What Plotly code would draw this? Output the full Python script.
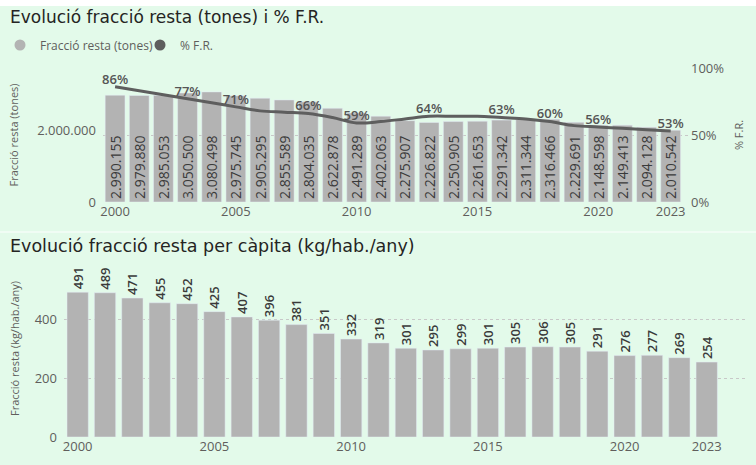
import plotly.graph_objects as go

# ─── Data ─────────────────────────────────────────────────────────────────────
YEARS = list(range(2000, 2024))

TONES = [2990155, 2979880, 2985053, 3050500, 3080498, 2975745, 2905295, 2855589,
         2804035, 2622878, 2491289, 2402063, 2275907, 2226822, 2250905, 2261653,
         2291342, 2311344, 2316466, 2229691, 2148598, 2149413, 2094128, 2010542]

PCT_FR = [0.86, 0.83, 0.80, 0.77, 0.74, 0.71, 0.68, 0.67, 0.66, 0.63, 0.59, 0.60,
          0.62, 0.64, 0.64, 0.64, 0.63, 0.62, 0.60, 0.57, 0.56, 0.55, 0.54, 0.53]
PCT_LABEL_YEARS = [2000, 2003, 2005, 2008, 2010, 2013, 2016, 2018, 2020, 2023]

KG_HAB = [491, 489, 471, 455, 452, 425, 407, 396, 381, 351, 332, 319,
          301, 295, 299, 301, 305, 306, 305, 291, 276, 277, 269, 254]

X_TICKS = [2000, 2005, 2010, 2015, 2020, 2023]

# ─── Style ────────────────────────────────────────────────────────────────────
W, H = 756, 465
COLORS = {
    "bg":    "#e3faea",
    "bar":   "#b3b3b3",
    "line":  "#5e5e5e",
    "title": "#252423",
    "tick":  "#605e5c",
    "label": "#3a3a3a",
    "grid":  "#c8c8c8",
}
FONT = "Open Sans, Noto Sans, sans-serif"
TITLE_FONT = "DejaVu Sans, Verdana, sans-serif"


def px_x(x):
    return x / W


def px_y(y):
    return (H - y) / H


pct_text = [f"{p:.0%}" if yr in PCT_LABEL_YEARS else "" for yr, p in zip(YEARS, PCT_FR)]

fig = go.Figure()

# top panel: tonnes bars + % line
fig.add_trace(go.Bar(
    x=YEARS, y=TONES, name="Fracció resta (tones)",
    marker_color=COLORS["bar"], width=0.82,
    texttemplate="%{y:,}", textposition="inside", insidetextanchor="start",
    textangle=-90, constraintext="none",
    insidetextfont=dict(size=14, color=COLORS["label"], family=FONT),
    xaxis="x", yaxis="y", showlegend=False, hoverinfo="skip",
))
fig.add_trace(go.Scatter(
    x=YEARS, y=PCT_FR, name="% F.R.",
    mode="lines+text", line=dict(color=COLORS["line"], width=3, shape="spline"),
    text=pct_text, textposition="top center",
    textfont=dict(size=13, color="#555555", family=FONT, weight=600),
    xaxis="x", yaxis="y2", showlegend=False, cliponaxis=False,
))

# legend-only entries (round markers, like the original)
fig.add_trace(go.Scatter(x=[None], y=[None], mode="markers", name="Fracció resta (tones)",
                         marker=dict(symbol="circle", size=11, color=COLORS["bar"]),
                         xaxis="x", yaxis="y"))
fig.add_trace(go.Scatter(x=[None], y=[None], mode="markers", name="% F.R.",
                         marker=dict(symbol="circle", size=11, color=COLORS["line"]),
                         xaxis="x", yaxis="y"))

# bottom panel: per capita bars
fig.add_trace(go.Bar(
    x=YEARS, y=KG_HAB, name="kg/hab./any",
    marker_color=COLORS["bar"], width=0.78,
    text=KG_HAB, textposition="outside", textangle=-90, constraintext="none",
    outsidetextfont=dict(size=13, color=COLORS["label"], family=FONT, weight=600),
    xaxis="x2", yaxis="y3", showlegend=False, cliponaxis=False, hoverinfo="skip",
))

tick_font = dict(size=13, color=COLORS["tick"], family=FONT)
axis_title_font = dict(size=11, color=COLORS["tick"], family=FONT)

fig.update_layout(
    width=W, height=H,
    paper_bgcolor=COLORS["bg"], plot_bgcolor=COLORS["bg"],
    margin=dict(l=0, r=0, t=0, b=0),
    separators=",.",
    font=dict(family=FONT, color=COLORS["tick"]),
    legend=dict(orientation="h", x=0, y=px_y(45), xanchor="left", yanchor="middle",
                bgcolor="rgba(0,0,0,0)", font=dict(size=12, color=COLORS["tick"]),
                itemwidth=30, entrywidth=95, tracegroupgap=0),
    xaxis=dict(domain=[px_x(103), px_x(690)], range=[1999.5, 2023.8],
               tickvals=X_TICKS, tickfont=tick_font, showgrid=False,
               zeroline=False, automargin=False, ticks=""),
    yaxis=dict(domain=[px_y(202), px_y(68)], range=[0, 3750000],
               tickvals=[0, 2000000], tickformat=",", tickfont=tick_font,
               showgrid=False, zeroline=False, automargin=False, ticklabelstandoff=6,
               title=dict(text="Fracció resta (tones)", font=axis_title_font, standoff=16)),
    yaxis2=dict(overlaying="y", side="right", range=[0, 1],
                tickvals=[0, 0.5, 1], tickformat=".0%", tickfont=tick_font,
                showgrid=True, gridcolor=COLORS["grid"], griddash="dot",
                zeroline=False, automargin=False,
                title=dict(text="% F.R.", font=axis_title_font, standoff=12)),
    xaxis2=dict(domain=[px_x(64), px_x(745)], range=[1999.5, 2024.4],
                tickvals=X_TICKS, tickfont=tick_font, showgrid=False,
                zeroline=False, automargin=False, ticks="", anchor="y3"),
    yaxis3=dict(domain=[px_y(437), px_y(260)], range=[0, 600],
                tickvals=[0, 200, 400], tickfont=tick_font,
                showgrid=True, gridcolor=COLORS["grid"], griddash="dot",
                zeroline=False, automargin=False, anchor="x2", ticklabelstandoff=6,
                title=dict(text="Fracció resta (kg/hab./any)", font=axis_title_font, standoff=12)),
    annotations=[
        dict(text="Evolució fracció resta (tones) i % F.R.", xref="paper", yref="paper",
             x=px_x(8), y=px_y(17), xanchor="left", yanchor="middle", showarrow=False,
             font=dict(size=17, color=COLORS["title"], family=TITLE_FONT)),
        dict(text="Evolució fracció resta per càpita (kg/hab./any)", xref="paper", yref="paper",
             x=px_x(8), y=px_y(246), xanchor="left", yanchor="middle", showarrow=False,
             font=dict(size=17.5, color=COLORS["title"], family=TITLE_FONT)),
    ],
    shapes=[
        # white strip at the very top
        dict(type="rect", xref="paper", yref="paper", x0=0, x1=1, y0=px_y(6), y1=1,
             fillcolor="#ffffff", line_width=0, layer="below"),
        # faint divider between the two panels
        dict(type="line", xref="paper", yref="paper", x0=0, x1=1, y0=px_y(232), y1=px_y(232),
             line=dict(color="#f4fdf7", width=1.5)),
    ],
)

# drop the default page margin so the figure sits flush in the window
fig.write_html("out.html", config={"displayModeBar": False},
               post_script="document.body.style.margin='0';")
